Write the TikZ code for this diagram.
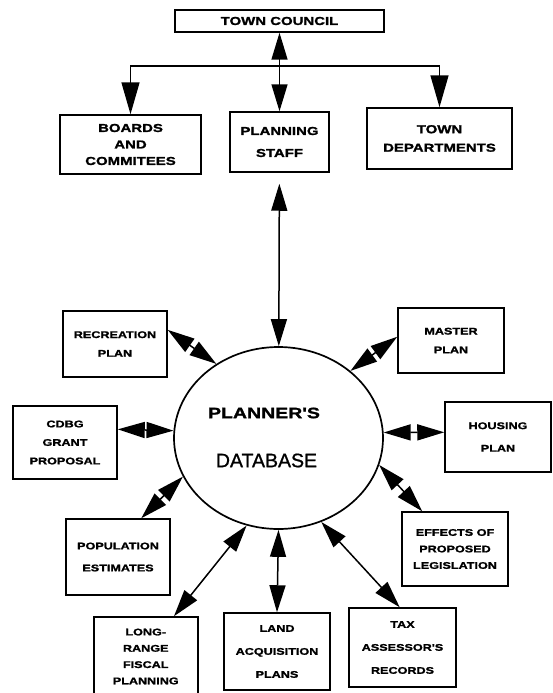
\documentclass[tikz,border=0pt]{standalone}
\usepackage{fontspec}
\setmainfont{Liberation Sans}
\newfontfamily\boxfont[FakeStretch=1.3,FakeBold=1.5]{Liberation Sans}
\newfontfamily\dbfont[FakeBold=1]{Liberation Sans}
\usetikzlibrary{shapes.geometric,arrows.meta}

\begin{document}
\begin{tikzpicture}[x=1pt,y=-1pt,line width=1.5pt,
    >={Triangle[length=27pt,width=16pt]},
    bigtip/.style={>={Triangle[length=32pt,width=18pt]}},
    infobox/.style={draw,align=center,inner sep=0pt},
    toptext/.style={font=\boxfont\bfseries\fontsize{11.5}{#1}\selectfont},
    lowtext/.style={font=\boxfont\bfseries\fontsize{9.7}{#1}\selectfont}]
    \useasboundingbox (0,0) rectangle (553,693);

    \node [infobox,toptext=14,minimum width=209,minimum height=22] (council) at (279.5,21) {TOWN COUNCIL};
    \node [infobox,toptext=16.5,minimum width=141,minimum height=59] (boards) at (130.5,144.5) {BOARDS\\AND\\COMMITEES};
    \node [infobox,toptext=22,minimum width=99,minimum height=60] (staff) at (279.5,142) {PLANNING\\STAFF};
    \node [infobox,toptext=18.5,minimum width=145,minimum height=61] (depts) at (439.5,138.5) {TOWN\\DEPARTMENTS};
    \coordinate (split) at (279.5,66);

    \node [draw,ellipse,line width=1.7pt,minimum width=209,minimum height=182,inner sep=0pt] (db) at (278.5,438) {};
    \node [font=\boxfont\bfseries\fontsize{15}{18}\selectfont] (planners) at (264,413) {PLANNER'S};
    \node [font=\dbfont\fontsize{19.5}{23}\selectfont] (database) at (266.5,460.5) {DATABASE};

    \node [infobox,lowtext=18.7,minimum width=104,minimum height=66] (rec) at (115,344) {RECREATION\\PLAN};
    \node [infobox,lowtext=18.7,minimum width=106,minimum height=65] (master) at (451,340.5) {MASTER\\PLAN};
    \node [infobox,lowtext=18.5,minimum width=104,minimum height=73] (cdbg) at (65,442.5) {CDBG\\GRANT\\PROPOSAL};
    \node [infobox,lowtext=22.5,minimum width=106,minimum height=70] (housing) at (498,437) {HOUSING\\PLAN};
    \node [infobox,lowtext=22,minimum width=104,minimum height=76] (pop) at (118,557) {POPULATION\\ESTIMATES};
    \node [infobox,lowtext=16.5,minimum width=106,minimum height=74] (effects) at (455,549) {EFFECTS OF\\PROPOSED\\LEGISLATION};
    \node [infobox,lowtext=16.3,minimum width=104,minimum height=79] (fiscal) at (145.75,656.5) {LONG-\\RANGE\\FISCAL\\PLANNING};
    \node [infobox,lowtext=23,minimum width=106,minimum height=77] (land) at (277,651.5) {LAND\\ACQUISITION\\PLANS};
    \node [infobox,lowtext=23,minimum width=107,minimum height=79] (tax) at (402.5,647.5) {TAX\\ASSESSOR'S\\RECORDS};

    \draw [->,bigtip] (split) -| (boards.north);
    \draw [->,bigtip] (split) -| (depts.north);
    \path [<->]
    (council) edge (staff)
    (staff) edge [shorten <=11pt] (db)
    (rec.15) edge (db.130)
    (master.176) edge (db.43)
    (cdbg.14) edge (db.176)
    (housing.175) edge (db.3)
    (pop.59) edge (db.202)
    (fiscal.55) edge (db.250)
    (land.north) edge (db.south)
    (tax.94) edge (db.297)
    (effects.131) edge (db.345);
\end{tikzpicture}
\end{document}
